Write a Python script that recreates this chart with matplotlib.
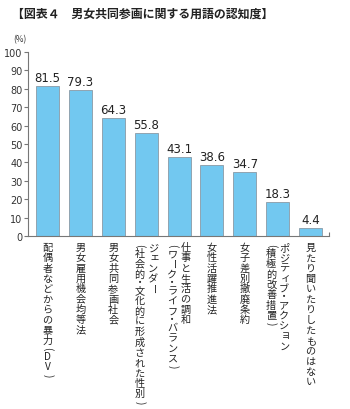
import matplotlib
matplotlib.use('Agg')
import matplotlib.pyplot as plt

plt.rcParams['font.family'] = ['Noto Sans CJK JP', 'DejaVu Sans']

# data
values = [81.5, 79.3, 64.3, 55.8, 43.1, 38.6, 34.7, 18.3, 4.4]
labels = [
    ["配偶者などからの暴力(DV)"],
    ["男女雇用機会均等法"],
    ["男女共同参画社会"],
    ["ジェンダー", "(社会的・文化的に形成された性別)"],
    ["仕事と生活の調和", "(ワーク・ライフ・バランス)"],
    ["女性活躍推進法"],
    ["女子差別撤廃条約"],
    ["ポジティブ・アクション", "(積極的改善措置)"],
    ["見たり聞いたりしたものはない"],
]
title = "【図表４　男女共同参画に関する用語の認知度】"
yticks = [0, 10, 20, 30, 40, 50, 60, 70, 80, 90, 100]

bar_color = '#72c8f0'
axis_color = '#777777'
text_color = '#222222'

fig = plt.figure(figsize=(3.5, 4.1), dpi=100)
ax = fig.add_axes([28/350, 1-237/410, 301/350, 184/410])

x = list(range(len(values)))
ax.bar(x, values, width=0.7, color=bar_color, edgecolor='#8a9aa5', linewidth=0.6)
for xi, v in zip(x, values):
    ax.annotate(f"{v}", xy=(xi, v), xytext=(0, 2), textcoords='offset pixels',
                ha='center', va='bottom', fontsize=8.5, color=text_color,
                family='DejaVu Sans')

ax.set_xlim(-0.594, 8.56)
ax.set_ylim(0, 100)
ax.set_yticks(yticks)
ax.set_xticks([8.56])
ax.set_xticklabels([''])
ax.tick_params(axis='x', direction='in', length=3, width=0.8, color=axis_color)
ax.tick_params(axis='y', direction='out', length=3, width=0.8, color=axis_color,
               labelsize=7, labelcolor='#333333', pad=1)
for lab in ax.get_yticklabels():
    lab.set_family('DejaVu Sans')
for s in ['top', 'right']:
    ax.spines[s].set_visible(False)
for s in ['left', 'bottom']:
    ax.spines[s].set_color(axis_color)
    ax.spines[s].set_linewidth(0.8)

# vertical (tategaki) category labels, one character at a time
half = set("()・")
rot = set("()ー")
small = set("ェッィョャュ")
pitch = 10.3
for xi, lines in zip(x, labels):
    n = len(lines)
    for j, line in enumerate(lines):
        dx = 0 if n == 1 else (6.5 if j == 0 else -6.5)
        y = -6
        for ch in line:
            step = 6.0 if ch in half else pitch
            cx, cy = dx, y - step / 2
            if ch in small:
                cx += 1.5
                cy += 1.5
            ax.annotate(ch, xy=(xi, 0), xytext=(cx, cy), textcoords='offset pixels',
                        ha='center', va='center', fontsize=7.3, color=text_color,
                        rotation=270 if ch in rot else 0, rotation_mode='anchor',
                        annotation_clip=False)
            y -= step

fig.text(12/350, 1-14/410, title, fontsize=8.6, fontweight='bold', color=text_color,
         ha='left', va='center')
fig.text(13/350, 1-40/410, "(%)", fontsize=6, color='#333333', ha='left', va='center')

plt.savefig('out.png', dpi=100)
